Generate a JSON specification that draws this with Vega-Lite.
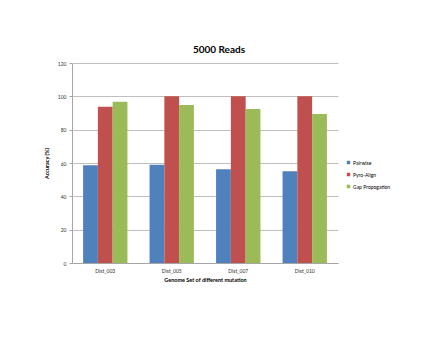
{
  "$schema": "https://vega.github.io/schema/vega-lite/v6.json",
  "width": 266,
  "height": 200,
  "autosize": "none",
  "padding": {"left": 72, "top": 63, "right": 102, "bottom": 77},
  "background": "white",
  "title": {"text": "5000 Reads", "font": "Lato", "fontSize": 10, "fontWeight": "bold", "color": "#000000", "anchor": "middle", "dx": 14, "offset": 6},
  "data": {"values": [
    {"set": "Dist_003", "method": "Pairwise", "acc": 58.6},
    {"set": "Dist_003", "method": "Pyro-Align", "acc": 93.8},
    {"set": "Dist_003", "method": "Gap Propogation", "acc": 96.8},
    {"set": "Dist_005", "method": "Pairwise", "acc": 58.9},
    {"set": "Dist_005", "method": "Pyro-Align", "acc": 100},
    {"set": "Dist_005", "method": "Gap Propogation", "acc": 94.8},
    {"set": "Dist_007", "method": "Pairwise", "acc": 56.2},
    {"set": "Dist_007", "method": "Pyro-Align", "acc": 100},
    {"set": "Dist_007", "method": "Gap Propogation", "acc": 92.4},
    {"set": "Dist_010", "method": "Pairwise", "acc": 55.0},
    {"set": "Dist_010", "method": "Pyro-Align", "acc": 100},
    {"set": "Dist_010", "method": "Gap Propogation", "acc": 89.4}
  ]},
  "mark": {"type": "bar"},
  "encoding": {
    "x": {"field": "set", "type": "nominal", "sort": null,
      "scale": {"paddingInner": 0.333, "paddingOuter": 0.1667},
      "axis": {"title": "Genome Set of different mutation", "titleFont": "Lato", "titleFontSize": 5.5, "titleFontWeight": "bold", "titleColor": "#000", "titlePadding": 4,
        "labelAngle": 0, "labelFont": "Lato", "labelFontSize": 5, "labelColor": "#333", "labelPadding": 5,
        "ticks": false, "domainColor": "#a6a6a6", "grid": false}},
    "xOffset": {"field": "method", "type": "nominal", "sort": ["Pairwise", "Pyro-Align", "Gap Propogation"], "scale": {"paddingInner": 0, "paddingOuter": 0}},
    "y": {"field": "acc", "type": "quantitative",
      "scale": {"domain": [0, 120], "nice": false},
      "axis": {"title": "Accuracy (%)", "titleFont": "Lato", "titleFontSize": 5.5, "titleFontWeight": "bold", "titleColor": "#000", "titlePadding": 8,
        "values": [0, 20, 40, 60, 80, 100, 120], "labelFont": "Lato", "labelFontSize": 5, "labelColor": "#333", "labelPadding": 3,
        "tickSize": 3, "tickColor": "#a6a6a6", "domainColor": "#a6a6a6", "gridColor": "#bfbfbf", "gridWidth": 1}},
    "color": {"field": "method", "type": "nominal", "sort": ["Pairwise", "Pyro-Align", "Gap Propogation"],
      "scale": {"domain": ["Pairwise", "Pyro-Align", "Gap Propogation"], "range": ["#4F81BD", "#C0504D", "#9BBB59"]},
      "legend": {"title": null, "orient": "none", "legendX": 274, "legendY": 97, "symbolType": "square", "symbolSize": 12, "symbolStrokeWidth": 0,
        "labelFont": "Lato", "labelFontSize": 5, "labelColor": "#000", "rowPadding": 6, "labelOffset": 2}}
  },
  "config": {"view": {"stroke": null}}
}
